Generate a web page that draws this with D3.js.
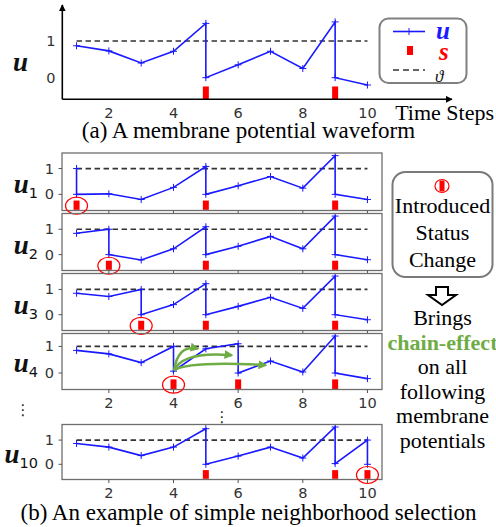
<!DOCTYPE html>
<html><head><meta charset="utf-8">
<script src="https://cdn.jsdelivr.net/npm/d3@7"></script>
<style>body{margin:0;background:#fff}svg{display:block}</style>
</head><body>
<svg id="c" width="496" height="527"></svg>
<script>
// ---------------- data ----------------
const xTicks = [2, 4, 6, 8, 10];
const uTicks = [0, 1];
const threshold = 1;
const thresholdFrom = 1, thresholdTo = 10;

// (a) waveform (repeated x = reset after a spike)
const waveX = [1, 2, 3, 4, 5, 5, 6, 7, 8, 9, 9, 10];
const waveU = [0.87, 0.73, 0.40, 0.72, 1.48, 0, 0.35, 0.72, 0.25, 1.52, 0, -0.20];
const waveSpikes = [5, 9];

// (b) neighbourhood panels
const panelNames = ["1", "2", "3", "4", "10"];
const u1X = [1, 1, 2, 3, 4, 5, 5, 6, 7, 8, 9, 9, 10];
const u1U = [1.0, 0, 0.02, -0.20, 0.27, 1.08, 0, 0.33, 0.69, 0.24, 1.50, 0, -0.20];
const u1Spikes = [1, 5, 9];
const u2X = [1, 2, 2, 3, 4, 5, 5, 6, 7, 8, 9, 9, 10];
const u2U = [0.84, 1.0, 0, -0.21, 0.23, 1.10, 0, 0.33, 0.72, 0.23, 1.52, 0, -0.20];
const u2Spikes = [2, 5, 9];
const u3X = [1, 2, 3, 3, 4, 5, 5, 6, 7, 8, 9, 9, 10];
const u3U = [0.85, 0.72, 1.0, 0, 0.40, 1.23, 0, 0.33, 0.69, 0.25, 1.53, 0, -0.20];
const u3Spikes = [3, 5, 9];
const u4X = [1, 2, 3, 4, 4, 5, 6, 6, 7, 8, 9, 9, 10];
const u4U = [0.85, 0.72, 0.39, 1.0, 0.07, 0.91, 1.10, 0, 0.45, 0.04, 1.39, 0, -0.21];
const u4Spikes = [4, 6, 9];
const u10X = [1, 2, 3, 4, 5, 5, 6, 7, 8, 9, 9, 10, 10];
const u10U = [0.86, 0.71, 0.36, 0.71, 1.47, 0, 0.34, 0.71, 0.26, 1.54, 0.03, 1.0, 0];
const u10Spikes = [5, 9, 10];
const changedSteps = [1, 2, 3, 4, 10];

// chain-effect arrows in panel u4 (data units)
const chainFrom = [4.02, 0.1];
const chainToX = [4.75, 5.8, 6.85];
const chainToU = [0.92, 0.67, 0.30];

const sidePanelLines1 = ["Introduced", "Status", "Change"];
const sidePanelLines2 = ["Brings", "chain-effect", "on all", "following", "membrane", "potentials"];

// ---------------- drawing ----------------
const svg = d3.select("#c");
const BLUE = "#1a1aff", RED = "#ff0000", GREEN = "#6fac46", DASH = "#333333";
const SERIF = "'Liberation Serif','Times New Roman',serif";
const SANS = "'DejaVu Sans',sans-serif";
const spikeTop = -0.24, spikeBottom = -0.6;
const defs = svg.append("defs");
defs.append("marker").attr("id", "arrBlack").attr("viewBox", "0 0 10 10").attr("refX", 9).attr("refY", 5)
  .attr("markerWidth", 7).attr("markerHeight", 7).attr("markerUnits", "userSpaceOnUse").attr("orient", "auto")
  .append("path").attr("d", "M0,0L10,5L0,10z").attr("fill", "#000");
defs.append("marker").attr("id", "arrGreen").attr("viewBox", "0 0 10 10").attr("refX", 8).attr("refY", 5)
  .attr("markerWidth", 9).attr("markerHeight", 9).attr("markerUnits", "userSpaceOnUse").attr("orient", "auto")
  .append("path").attr("d", "M0,0L10,5L0,10z").attr("fill", GREEN);

const x = d3.scaleLinear().domain([0.55, 10.45]).range([62, 382]);

function drawSeries(g, y, xs, us, spikes, clipId) {
  const pts = xs.map((v, i) => [v, us[i]]);
  const gg = g.append("g").attr("clip-path", clipId ? `url(#${clipId})` : null);
  gg.append("line").attr("x1", x(thresholdFrom)).attr("x2", x(thresholdTo))
    .attr("y1", y(threshold)).attr("y2", y(threshold))
    .attr("stroke", DASH).attr("stroke-width", 1.7).attr("stroke-dasharray", "5.5,3.5");
  gg.selectAll("rect.sp").data(spikes).join("rect").attr("class", "sp")
    .attr("x", d => x(d) - 3).attr("width", 6)
    .attr("y", y(spikeTop)).attr("height", y(spikeBottom) - y(spikeTop)).attr("fill", RED);
  gg.append("path").datum(pts).attr("fill", "none").attr("stroke", BLUE).attr("stroke-width", 1.6)
    .attr("d", d3.line().x(d => x(d[0])).y(d => y(d[1])));
  gg.selectAll("path.pl").data(pts).join("path").attr("class", "pl")
    .attr("d", d => `M${x(d[0]) - 3.5},${y(d[1])}h7M${x(d[0])},${y(d[1]) - 3.5}v7`)
    .attr("stroke", BLUE).attr("stroke-width", 1);
  return gg;
}

function uLabel(xr, yb, sub) {
  const t = svg.append("text").attr("x", xr).attr("y", yb).attr("text-anchor", "end").attr("fill", "#111");
  t.append("tspan").text("u").attr("font-family", SERIF).attr("font-style", "italic")
    .attr("font-weight", "bold").attr("font-size", 27);
  if (sub) t.append("tspan").text(sub).attr("font-family", SANS).attr("font-size", 14.5).attr("dy", 5);
}

// ---- (a) ----
{
  const y = d3.scaleLinear().domain([-0.59, 1]).range([99.3, 41]);
  const g = svg.append("g");
  drawSeries(g, y, waveX, waveU, waveSpikes, null);
  g.append("line").attr("x1", 62.3).attr("x2", 62.3).attr("y1", 99.3).attr("y2", 5)
    .attr("stroke", "#000").attr("stroke-width", 1.6).attr("marker-end", "url(#arrBlack)");
  g.append("line").attr("x1", 62.3).attr("x2", 452).attr("y1", 99.3).attr("y2", 99.3)
    .attr("stroke", "#000").attr("stroke-width", 1.6).attr("marker-end", "url(#arrBlack)");
  g.selectAll("text.xt").data(xTicks).join("text").attr("class", "xt")
    .attr("x", d => x(d)).attr("y", 118).attr("text-anchor", "middle")
    .attr("font-family", SANS).attr("font-size", 14.5).attr("fill", "#333").text(d => d);
  g.selectAll("text.yt").data(uTicks).join("text").attr("class", "yt")
    .attr("x", 55.5).attr("y", d => y(d) + 5).attr("text-anchor", "end")
    .attr("font-family", SANS).attr("font-size", 14.5).attr("fill", "#333").text(d => d);
  uLabel(28, 71, null);
  svg.append("text").attr("x", 494).attr("y", 120).attr("text-anchor", "end")
    .attr("font-family", SERIF).attr("font-size", 22).text("Time Steps");
  // legend
  const L = svg.append("g");
  L.append("rect").attr("x", 379.5).attr("y", 18.5).attr("width", 87).attr("height", 64.5).attr("rx", 9)
    .attr("fill", "#fff").attr("stroke", "#808080").attr("stroke-width", 2);
  L.append("line").attr("x1", 393).attr("x2", 425).attr("y1", 31.5).attr("y2", 31.5).attr("stroke", BLUE).attr("stroke-width", 1.6);
  L.append("path").attr("d", "M409,28v7M405.5,31.5h7").attr("stroke", BLUE).attr("stroke-width", 1);
  L.append("rect").attr("x", 407).attr("y", 46).attr("width", 6).attr("height", 9).attr("fill", RED);
  L.append("line").attr("x1", 393).attr("x2", 425).attr("y1", 70).attr("y2", 70).attr("stroke", DASH)
    .attr("stroke-width", 1.7).attr("stroke-dasharray", "6,4");
  L.append("text").attr("x", 436).attr("y", 39).attr("font-family", SERIF).attr("font-style", "italic")
    .attr("font-weight", "bold").attr("font-size", 25).attr("fill", BLUE).text("u");
  L.append("text").attr("x", 439).attr("y", 60).attr("font-family", SERIF).attr("font-style", "italic")
    .attr("font-weight", "bold").attr("font-size", 25).attr("fill", RED).text("s");
  L.append("text").attr("x", 435).attr("y", 82).attr("font-family", SERIF).attr("font-style", "italic")
    .attr("font-size", 17).attr("fill", "#111").text("\u03D1");
  svg.append("text").attr("x", 248.5).attr("y", 138).attr("text-anchor", "middle")
    .attr("font-family", SERIF).attr("font-size", 23).text("(a) A membrane potential waveform");
}

// ---- (b) ----
const panelX = [u1X, u2X, u3X, u4X, u10X];
const panelU = [u1U, u2U, u3U, u4U, u10U];
const panelS = [u1Spikes, u2Spikes, u3Spikes, u4Spikes, u10Spikes];
const frames = [[153, 210.5], [213.5, 270.5], [273.5, 330.5], [333.5, 389.5], [424.5, 479.5]];
const xLabelRows = [3, 4];

panelNames.forEach((nm, i) => {
  const xs = panelX[i], us = panelU[i];
  const lo = -0.524, hi = d3.max(us), R = hi - lo;
  const [top, bot] = frames[i];
  const y = d3.scaleLinear().domain([lo - 0.05 * R, hi + 0.05 * R]).range([bot, top]);
  const cid = "clip" + i;
  defs.append("clipPath").attr("id", cid).append("rect")
    .attr("x", x.range()[0]).attr("y", top).attr("width", x.range()[1] - x.range()[0]).attr("height", bot - top);
  const g = svg.append("g");
  drawSeries(g, y, xs, us, panelS[i], cid);
  g.append("rect").attr("x", x.range()[0]).attr("y", top).attr("width", x.range()[1] - x.range()[0])
    .attr("height", bot - top).attr("fill", "none").attr("stroke", "#6e6e6e").attr("stroke-width", 1.3);
  g.selectAll("line.xt").data(xTicks).join("line").attr("class", "xt")
    .attr("x1", d => x(d)).attr("x2", d => x(d)).attr("y1", bot).attr("y2", bot + 3.5)
    .attr("stroke", "#555").attr("stroke-width", 1);
  g.selectAll("line.yt").data(uTicks).join("line").attr("class", "yt")
    .attr("x1", x.range()[0] - 3.5).attr("x2", x.range()[0]).attr("y1", d => y(d)).attr("y2", d => y(d))
    .attr("stroke", "#555").attr("stroke-width", 1);
  g.selectAll("text.yt").data(uTicks).join("text").attr("class", "yt")
    .attr("x", 54).attr("y", d => y(d) + 5).attr("text-anchor", "end")
    .attr("font-family", SANS).attr("font-size", 14.5).attr("fill", "#333").text(d => d);
  if (xLabelRows.includes(i)) {
    g.selectAll("text.xl").data(xTicks).join("text").attr("class", "xl")
      .attr("x", d => x(d)).attr("y", bot + 18.5).attr("text-anchor", "middle")
      .attr("font-family", SANS).attr("font-size", 14.5).attr("fill", "#333").text(d => d);
  }
  const c = changedSteps[i];
  g.append("ellipse").attr("cx", x(c)).attr("cy", y((spikeTop + spikeBottom) / 2) + 0.5)
    .attr("rx", 11).attr("ry", 8.5).attr("fill", "none").attr("stroke", RED).attr("stroke-width", 1.2);
  uLabel(38, y(0) - 1, nm);

  if (nm === "4") {
    chainToX.forEach((tx, k) => {
      const x0 = x(chainFrom[0]), y0 = y(chainFrom[1]);
      const x1 = x(tx), y1 = y(chainToU[k]);
      const cx = x0 + (x1 - x0) * 0.15, cy = Math.min(y0, y1) - 4;
      g.append("path").attr("d", `M${x0},${y0}Q${cx},${cy} ${x1},${y1}`)
        .attr("fill", "none").attr("stroke", GREEN).attr("stroke-width", 2.5)
        .attr("marker-end", "url(#arrGreen)");
    });
  }
});

svg.append("text").attr("x", 23).attr("y", 415).attr("text-anchor", "middle")
  .attr("font-family", SANS).attr("font-size", 15).attr("fill", "#222").text("\u22EE");
svg.append("text").attr("x", 222).attr("y", 422).attr("text-anchor", "middle")
  .attr("font-family", SANS).attr("font-size", 15).attr("fill", "#222").text("\u22EE");

svg.append("text").attr("x", 248.5).attr("y", 519.5).attr("text-anchor", "middle")
  .attr("font-family", SERIF).attr("font-size", 23).text("(b) An example of simple neighborhood selection");

// ---- side panel ----
{
  const S = svg.append("g");
  S.append("rect").attr("x", 392.5).attr("y", 172).attr("width", 100).attr("height", 105).attr("rx", 13)
    .attr("fill", "#fff").attr("stroke", "#7a7a7a").attr("stroke-width", 2);
  S.append("ellipse").attr("cx", 442).attr("cy", 186).attr("rx", 7).attr("ry", 6.5)
    .attr("fill", "none").attr("stroke", RED).attr("stroke-width", 1.2);
  S.append("rect").attr("x", 439.5).attr("y", 180.5).attr("width", 5).attr("height", 11).attr("fill", RED);
  S.selectAll("text.l1").data(sidePanelLines1).join("text").attr("class", "l1")
    .attr("x", 442.5).attr("y", (d, i) => 213 + i * 26.8).attr("text-anchor", "middle")
    .attr("font-family", SERIF).attr("font-size", 22).text(d => d);
  S.append("path").attr("d", "M436,287h12v8h8l-14,10l-14,-10h8z")
    .attr("fill", "#fff").attr("stroke", "#000").attr("stroke-width", 2).attr("stroke-linejoin", "miter");
  S.selectAll("text.l2").data(sidePanelLines2).join("text").attr("class", "l2")
    .attr("x", 442.5).attr("y", (d, i) => 325 + i * 24.6).attr("text-anchor", "middle")
    .attr("font-family", SERIF).attr("font-size", 22)
    .attr("font-weight", (d, i) => i === 1 ? "bold" : null)
    .attr("fill", (d, i) => i === 1 ? GREEN : "#000").text(d => d);
}
</script>
</body></html>
